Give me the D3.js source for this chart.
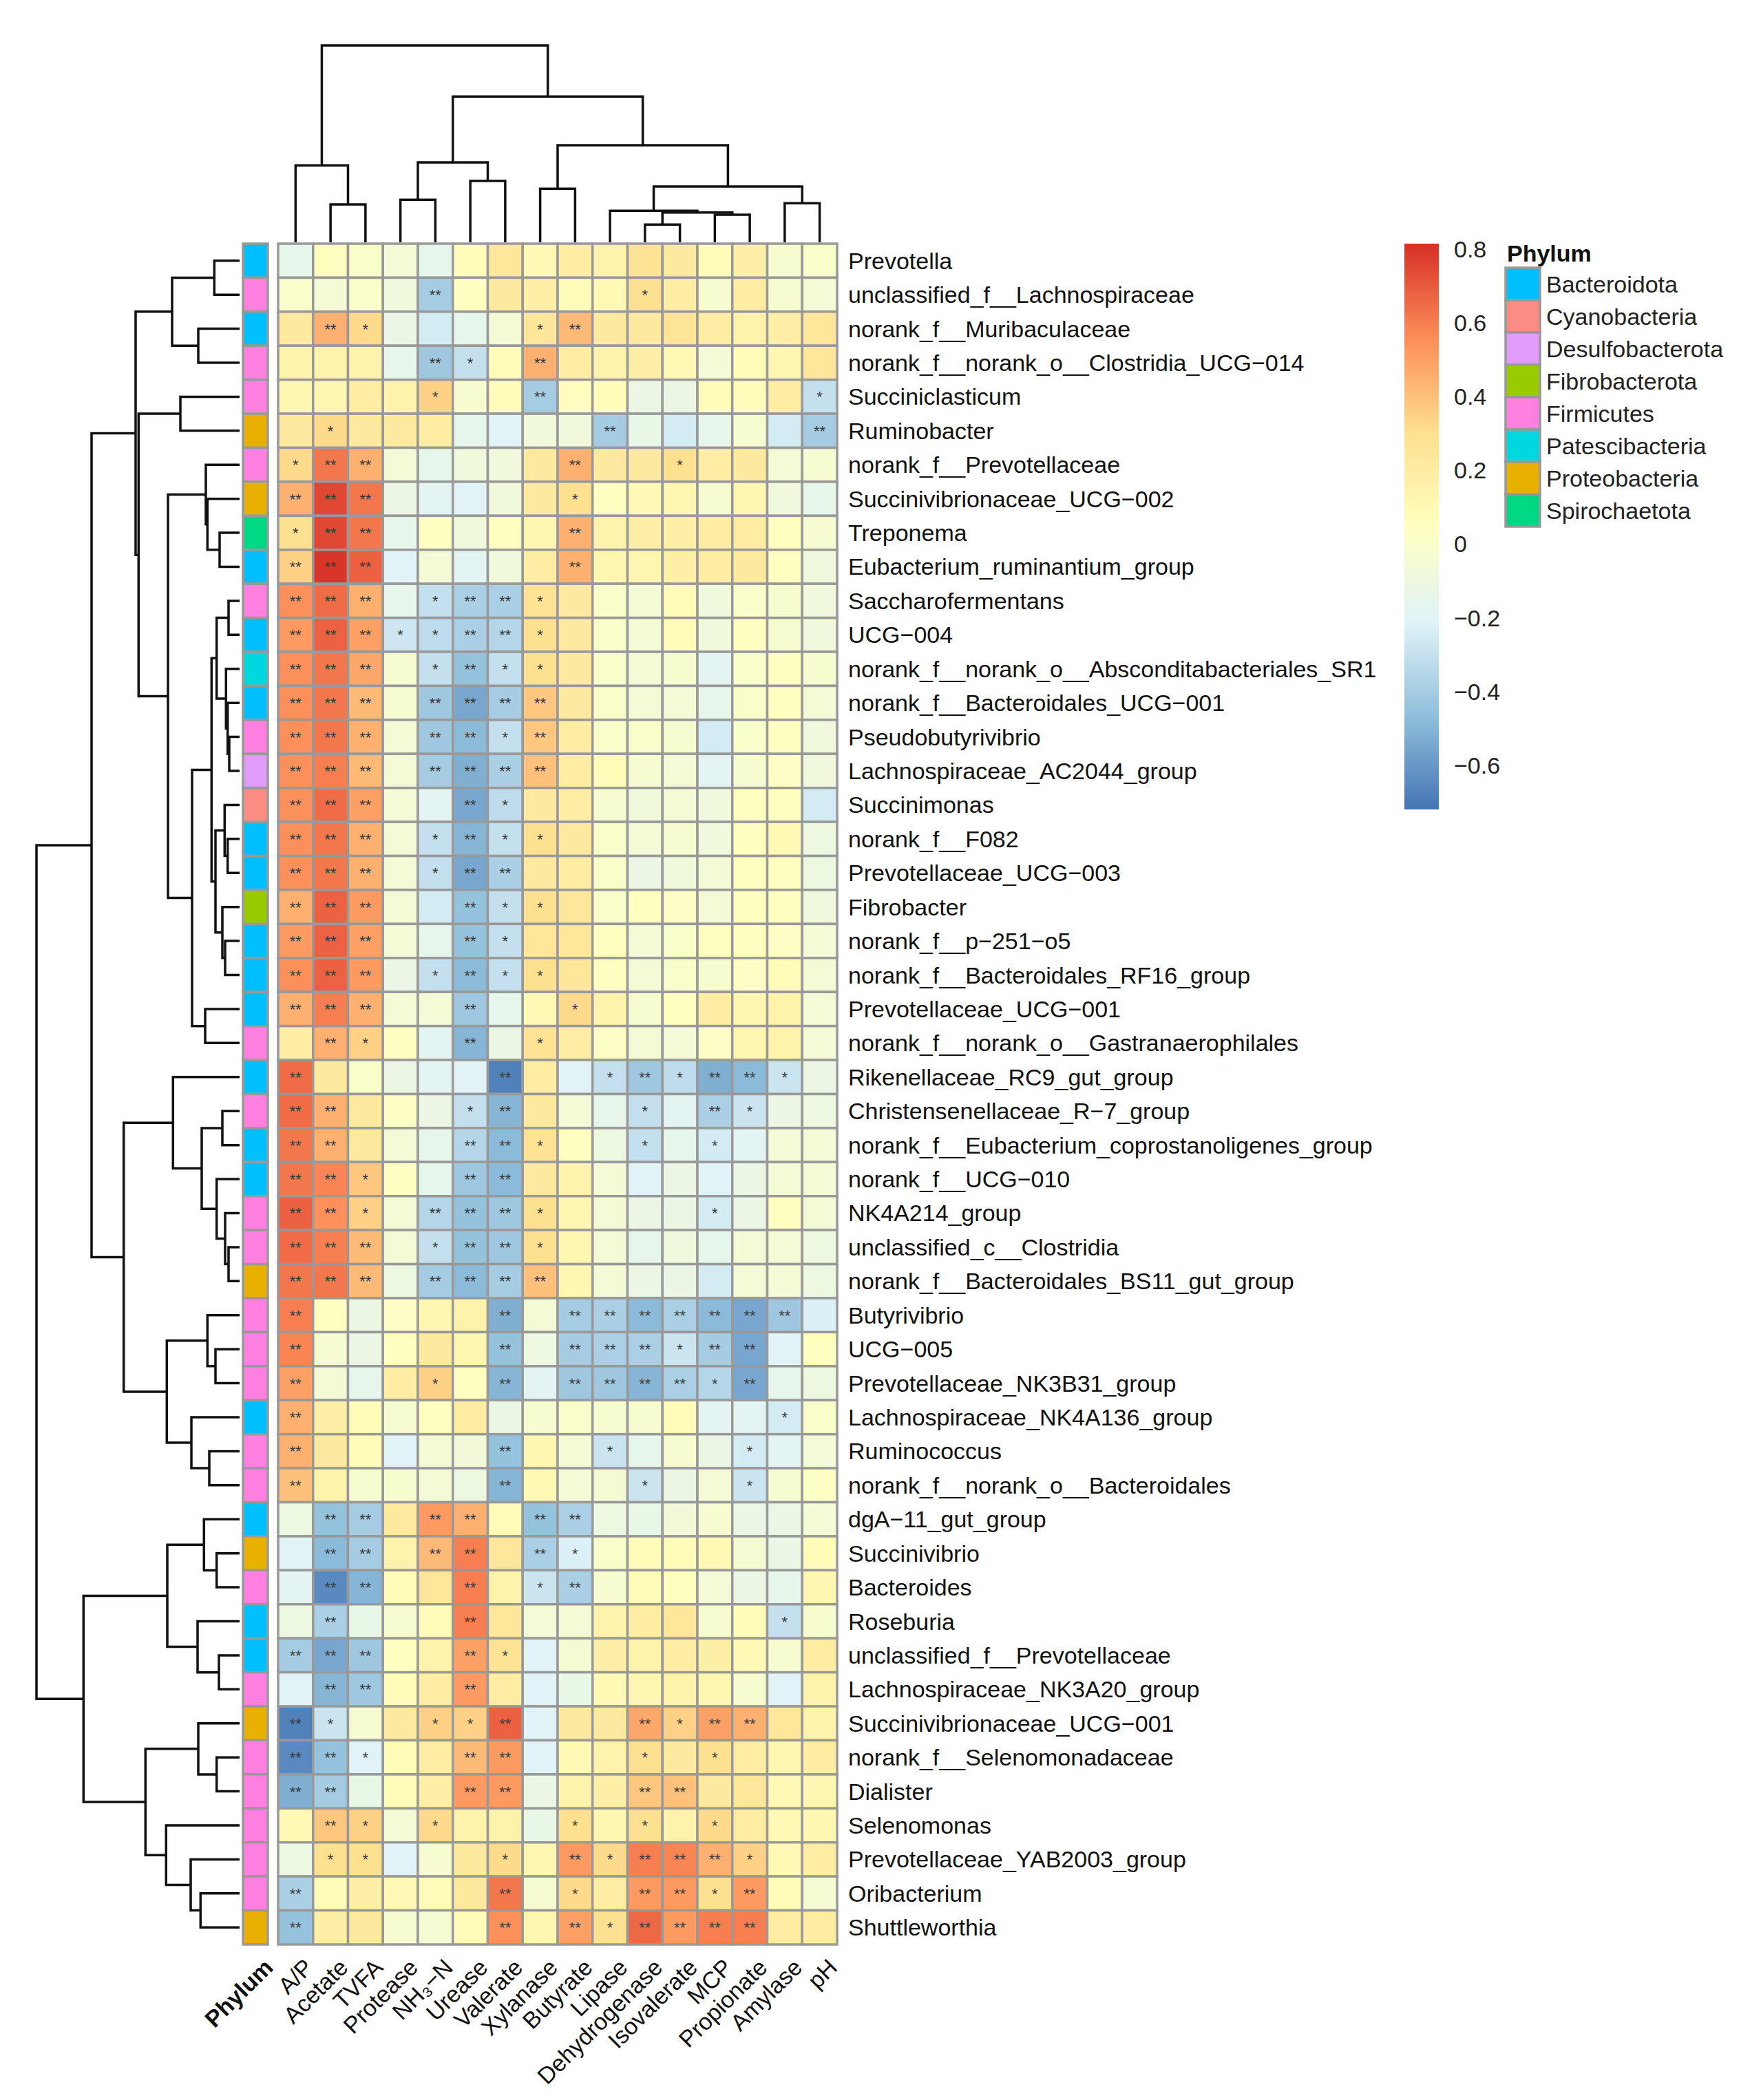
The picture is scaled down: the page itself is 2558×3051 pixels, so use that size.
<!DOCTYPE html>
<html>
<head>
<meta charset="utf-8">
<script src="https://cdn.jsdelivr.net/npm/d3@7"></script>
<style>
  body { margin: 0; background: #fff; }
  text { font-family: "Liberation Sans", Arial, Helvetica, sans-serif; }
</style>
</head>
<body>
<script>
// genera (rows, in dendrogram order)
const rowNames = [
  "Prevotella", "unclassified_f__Lachnospiraceae", "norank_f__Muribaculaceae",
  "norank_f__norank_o__Clostridia_UCG−014", "Succiniclasticum", "Ruminobacter",
  "norank_f__Prevotellaceae", "Succinivibrionaceae_UCG−002", "Treponema",
  "Eubacterium_ruminantium_group", "Saccharofermentans", "UCG−004",
  "norank_f__norank_o__Absconditabacteriales_SR1", "norank_f__Bacteroidales_UCG−001",
  "Pseudobutyrivibrio", "Lachnospiraceae_AC2044_group", "Succinimonas", "norank_f__F082",
  "Prevotellaceae_UCG−003", "Fibrobacter", "norank_f__p−251−o5",
  "norank_f__Bacteroidales_RF16_group", "Prevotellaceae_UCG−001",
  "norank_f__norank_o__Gastranaerophilales", "Rikenellaceae_RC9_gut_group",
  "Christensenellaceae_R−7_group", "norank_f__Eubacterium_coprostanoligenes_group",
  "norank_f__UCG−010", "NK4A214_group", "unclassified_c__Clostridia",
  "norank_f__Bacteroidales_BS11_gut_group", "Butyrivibrio", "UCG−005",
  "Prevotellaceae_NK3B31_group", "Lachnospiraceae_NK4A136_group", "Ruminococcus",
  "norank_f__norank_o__Bacteroidales", "dgA−11_gut_group", "Succinivibrio", "Bacteroides",
  "Roseburia", "unclassified_f__Prevotellaceae", "Lachnospiraceae_NK3A20_group",
  "Succinivibrionaceae_UCG−001", "norank_f__Selenomonadaceae", "Dialister", "Selenomonas",
  "Prevotellaceae_YAB2003_group", "Oribacterium", "Shuttleworthia"
];

// rumen parameters (columns, in dendrogram order)
const colNames = ["A/P", "Acetate", "TVFA", "Protease", "NH₃−N", "Urease", "Valerate",
  "Xylanase", "Butyrate", "Lipase", "Dehydrogenase", "Isovalerate", "MCP",
  "Propionate", "Amylase", "pH"];

// phylum of each genus
const rowPhylum = [
  "Bacteroidota", "Firmicutes", "Bacteroidota", "Firmicutes", "Firmicutes", "Proteobacteria",
  "Firmicutes", "Proteobacteria", "Spirochaetota", "Bacteroidota", "Firmicutes", "Bacteroidota",
  "Patescibacteria", "Bacteroidota", "Firmicutes", "Desulfobacterota", "Cyanobacteria",
  "Bacteroidota", "Bacteroidota", "Fibrobacterota", "Bacteroidota", "Bacteroidota",
  "Bacteroidota", "Firmicutes", "Bacteroidota", "Firmicutes", "Bacteroidota", "Bacteroidota",
  "Firmicutes", "Firmicutes", "Proteobacteria", "Firmicutes", "Firmicutes", "Firmicutes",
  "Bacteroidota", "Firmicutes", "Firmicutes", "Bacteroidota", "Proteobacteria", "Firmicutes",
  "Bacteroidota", "Bacteroidota", "Firmicutes", "Proteobacteria", "Firmicutes", "Firmicutes",
  "Firmicutes", "Firmicutes", "Firmicutes", "Proteobacteria"
];

const phyla = ["Bacteroidota", "Cyanobacteria", "Desulfobacterota", "Fibrobacterota",
  "Firmicutes", "Patescibacteria", "Proteobacteria", "Spirochaetota"];
const phylaColors = ["#00BFFF", "#FA8C84", "#E09CF8", "#99CC00", "#FF80E0", "#00D8E0",
  "#E8B000", "#00D884"];

// correlation coefficients, one row per genus
const corr = [
  [-0.15, 0.05, 0.00, -0.05, -0.15, 0.08, 0.25, 0.10, 0.20, 0.15, 0.28, 0.22, 0.08, 0.18, -0.03, 0.00],
  [0.00, -0.05, 0.00, -0.08, -0.40, 0.05, 0.22, 0.18, 0.08, 0.10, 0.30, 0.20, -0.03, 0.20, -0.03, -0.05],
  [0.22, 0.45, 0.32, -0.12, -0.25, -0.15, -0.05, 0.25, 0.42, 0.22, 0.22, 0.27, 0.20, 0.15, 0.18, 0.25],
  [0.15, 0.15, 0.15, -0.15, -0.42, -0.30, 0.08, 0.45, 0.20, 0.15, 0.18, 0.10, -0.05, 0.08, 0.12, 0.25],
  [0.12, 0.12, 0.20, 0.15, 0.35, -0.03, 0.07, -0.40, 0.06, 0.08, -0.12, -0.12, 0.08, 0.07, 0.20, -0.30],
  [0.22, 0.32, 0.22, 0.22, 0.20, -0.15, -0.20, -0.08, -0.08, -0.40, -0.13, -0.25, -0.15, -0.03, -0.25, -0.40],
  [0.32, 0.62, 0.45, -0.05, -0.15, -0.08, -0.08, 0.22, 0.45, 0.22, 0.22, 0.30, 0.20, 0.22, -0.05, -0.03],
  [0.45, 0.75, 0.62, -0.12, -0.18, -0.20, -0.08, 0.22, 0.30, 0.05, 0.10, 0.12, -0.03, 0.12, -0.08, -0.15],
  [0.30, 0.75, 0.62, -0.15, 0.05, -0.08, 0.05, 0.12, 0.45, 0.15, 0.18, 0.18, 0.20, 0.20, 0.05, -0.03],
  [0.35, 0.80, 0.68, -0.20, -0.05, -0.18, -0.08, 0.20, 0.45, 0.12, 0.12, 0.18, 0.20, 0.22, 0.05, -0.08],
  [0.55, 0.65, 0.45, -0.15, -0.30, -0.38, -0.38, 0.28, 0.22, 0.00, -0.05, 0.08, -0.08, 0.00, -0.02, -0.08],
  [0.52, 0.68, 0.50, -0.27, -0.32, -0.38, -0.35, 0.30, 0.22, 0.00, -0.05, 0.08, -0.08, 0.05, -0.03, -0.08],
  [0.55, 0.62, 0.48, -0.03, -0.30, -0.45, -0.30, 0.30, 0.22, 0.00, -0.05, -0.02, -0.18, 0.00, 0.05, -0.02],
  [0.55, 0.62, 0.42, -0.03, -0.42, -0.55, -0.40, 0.38, 0.22, 0.00, -0.05, -0.05, -0.15, 0.00, 0.05, -0.05],
  [0.55, 0.62, 0.45, -0.05, -0.42, -0.48, -0.30, 0.38, 0.20, 0.00, 0.00, -0.03, -0.25, 0.00, 0.05, -0.08],
  [0.55, 0.60, 0.42, -0.05, -0.40, -0.52, -0.38, 0.40, 0.20, 0.08, -0.03, -0.05, -0.18, -0.03, 0.02, -0.08],
  [0.55, 0.65, 0.50, -0.05, -0.18, -0.55, -0.32, 0.22, 0.20, -0.03, -0.08, -0.05, -0.08, 0.05, 0.05, -0.25],
  [0.55, 0.62, 0.45, -0.05, -0.30, -0.50, -0.30, 0.30, 0.22, 0.00, -0.05, -0.03, -0.08, 0.05, 0.10, -0.10],
  [0.55, 0.62, 0.45, -0.05, -0.30, -0.55, -0.38, 0.22, 0.20, 0.00, -0.12, -0.08, -0.05, 0.05, 0.05, -0.10],
  [0.45, 0.68, 0.52, -0.05, -0.25, -0.45, -0.30, 0.30, 0.25, 0.00, 0.05, 0.02, -0.05, 0.05, 0.05, -0.08],
  [0.52, 0.68, 0.50, -0.05, -0.15, -0.45, -0.30, 0.25, 0.25, 0.05, -0.05, 0.00, 0.05, 0.05, 0.02, -0.05],
  [0.55, 0.68, 0.52, -0.12, -0.30, -0.48, -0.30, 0.30, 0.25, 0.05, -0.05, 0.00, -0.03, 0.02, 0.08, -0.05],
  [0.45, 0.60, 0.45, -0.05, -0.05, -0.42, -0.15, 0.10, 0.32, 0.15, -0.03, 0.05, 0.20, 0.12, 0.15, -0.05],
  [0.20, 0.45, 0.35, 0.05, -0.18, -0.50, -0.12, 0.28, 0.20, 0.02, -0.05, -0.05, 0.02, 0.12, 0.15, -0.05],
  [0.65, 0.22, 0.00, -0.12, -0.18, -0.20, -0.68, 0.20, -0.20, -0.30, -0.42, -0.32, -0.52, -0.48, -0.28, -0.12],
  [0.65, 0.45, 0.22, 0.03, -0.12, -0.30, -0.50, 0.22, -0.05, -0.15, -0.30, -0.18, -0.38, -0.28, -0.12, -0.10],
  [0.62, 0.45, 0.22, -0.05, -0.15, -0.35, -0.48, 0.28, 0.05, -0.10, -0.30, -0.15, -0.25, -0.18, -0.05, -0.05],
  [0.62, 0.58, 0.38, 0.05, -0.15, -0.42, -0.48, 0.22, 0.15, -0.05, -0.20, -0.12, -0.20, -0.12, -0.05, -0.05],
  [0.68, 0.55, 0.35, -0.05, -0.35, -0.45, -0.42, 0.30, 0.12, -0.05, -0.12, -0.12, -0.25, -0.12, 0.05, -0.05],
  [0.65, 0.60, 0.42, -0.05, -0.30, -0.45, -0.42, 0.30, 0.12, -0.05, -0.15, -0.08, -0.15, -0.05, -0.05, -0.10],
  [0.62, 0.62, 0.42, -0.10, -0.40, -0.48, -0.40, 0.40, 0.12, -0.05, -0.12, -0.12, -0.25, -0.05, -0.05, -0.10],
  [0.60, 0.05, -0.12, 0.02, 0.12, 0.15, -0.52, -0.05, -0.40, -0.38, -0.48, -0.38, -0.48, -0.55, -0.42, -0.22],
  [0.58, -0.03, -0.12, 0.05, 0.22, 0.12, -0.45, -0.10, -0.40, -0.38, -0.38, -0.28, -0.40, -0.55, -0.20, 0.05],
  [0.50, -0.05, -0.15, 0.20, 0.35, 0.05, -0.50, -0.18, -0.42, -0.42, -0.50, -0.38, -0.35, -0.55, -0.15, -0.10],
  [0.45, 0.18, 0.08, -0.03, 0.05, 0.20, -0.12, -0.03, 0.00, -0.03, -0.03, 0.08, -0.18, -0.18, -0.25, 0.00],
  [0.45, 0.22, 0.08, -0.20, -0.05, -0.07, -0.45, 0.12, -0.05, -0.28, -0.15, -0.03, -0.12, -0.25, -0.18, -0.06],
  [0.40, 0.15, -0.03, -0.02, -0.05, -0.10, -0.50, 0.10, -0.05, -0.04, -0.28, -0.12, -0.05, -0.28, -0.03, 0.02],
  [-0.10, -0.45, -0.40, 0.22, 0.52, 0.45, 0.08, -0.45, -0.38, -0.10, -0.13, -0.07, -0.03, -0.12, -0.12, -0.05],
  [-0.20, -0.48, -0.40, 0.15, 0.42, 0.60, 0.25, -0.38, -0.22, 0.00, 0.08, 0.08, 0.10, -0.04, -0.12, 0.08],
  [-0.18, -0.65, -0.50, 0.08, 0.25, 0.60, 0.15, -0.28, -0.38, -0.03, 0.08, 0.05, -0.05, -0.12, -0.15, 0.12],
  [-0.10, -0.38, -0.13, -0.03, 0.08, 0.60, 0.25, -0.06, -0.05, 0.15, 0.20, 0.25, -0.03, 0.08, -0.30, -0.02],
  [-0.40, -0.55, -0.42, 0.05, 0.15, 0.50, 0.28, -0.20, -0.04, 0.18, 0.15, 0.20, 0.18, 0.10, -0.03, 0.20],
  [-0.20, -0.50, -0.42, 0.08, 0.20, 0.52, 0.20, -0.20, -0.13, 0.10, 0.12, 0.15, 0.12, -0.02, -0.20, 0.15],
  [-0.68, -0.28, -0.03, 0.22, 0.35, 0.35, 0.68, -0.20, 0.22, 0.22, 0.48, 0.35, 0.50, 0.45, 0.25, 0.15],
  [-0.65, -0.45, -0.20, 0.08, 0.20, 0.42, 0.52, -0.20, 0.10, 0.15, 0.30, 0.22, 0.30, 0.20, 0.12, 0.20],
  [-0.52, -0.40, -0.13, 0.08, 0.18, 0.52, 0.52, -0.12, 0.15, 0.18, 0.38, 0.40, 0.22, 0.25, 0.10, 0.12],
  [0.10, 0.38, 0.35, -0.05, 0.32, 0.15, 0.15, -0.13, 0.30, 0.12, 0.30, 0.15, 0.32, 0.20, 0.10, 0.12],
  [-0.10, 0.30, 0.30, -0.20, -0.03, 0.22, 0.32, 0.12, 0.52, 0.32, 0.60, 0.58, 0.45, 0.35, 0.10, 0.20],
  [-0.38, 0.08, 0.18, 0.10, 0.08, 0.22, 0.62, -0.03, 0.32, 0.20, 0.52, 0.52, 0.30, 0.52, 0.08, -0.04],
  [-0.45, 0.18, 0.22, -0.03, -0.04, 0.08, 0.55, 0.12, 0.50, 0.30, 0.66, 0.52, 0.60, 0.60, 0.20, 0.20]
];

// significance per cell: 0 none, 1 = *, 2 = **
const signif = [
  "0000000000000000", "0000200000100000", "0210000120000000", "0000210200000000",
  "0000100200000001", "0100000002000002", "1220000020010000", "2220000010000000",
  "1220000020000000", "2220000020000000", "2220122100000000", "2221122100000000",
  "2220121100000000", "2220222200000000", "2220221200000000", "2220222200000000",
  "2220021000000000", "2220121100000000", "2220122000000000", "2220021100000000",
  "2220021000000000", "2220121100000000", "2220020010000000", "0210020100000000",
  "2000002001212210", "2200012000102100", "2200022100101000", "2210022000000000",
  "2210222100001000", "2220122100000000", "2220222200000000", "2000002022222220",
  "2000002022212200", "2000102022221200", "2000000000000010", "2000002001000100",
  "2000002000100100", "0220220220000000", "0220220210000000", "0220020120000000",
  "0200020000000010", "2220021000000000", "0220020000000000", "2100112000212200",
  "2210022000101000", "2200022000220000", "0210100010101000", "0110001021222100",
  "2000002010221200", "2000002021222200"
];

// hclust-style merges: negative = leaf (1-based), positive = earlier merge; third = height
const rowMerges = [
  [-1, -2, 36.7], [-3, -4, 60], [1, 2, 98], [-5, -6, 86], [-9, -10, 29], [-8, 5, 46.7],
  [-7, 6, 49], [-11, -12, 16], [-15, -16, 15], [-14, 9, 17.3], [-13, 10, 19.7], [8, 11, 33.3],
  [-18, -19, 17.3], [-17, 13, 21.7], [-21, -22, 21], [-20, 15, 25], [14, 16, 35], [12, 17, 40.7],
  [-23, -24, 50], [18, 19, 69], [7, 20, 104], [4, 21, 146.7], [3, 22, 151],
  [-26, -27, 25], [-30, -31, 16], [-29, 25, 21], [-28, 26, 33.3], [24, 27, 55], [-25, 28, 96.7],
  [-33, -34, 35], [-32, 30, 46.7], [-36, -37, 44], [-35, 32, 70], [31, 33, 105.7], [29, 34, 168.3],
  [23, 35, 215], [-39, -40, 33.3], [-38, 37, 51.7], [-42, -43, 30], [-41, 39, 61], [38, 40, 105],
  [-45, -46, 33.3], [-44, 42, 60], [-49, -50, 56.7], [-48, 44, 71], [-47, 45, 106.7],
  [43, 46, 136.7], [41, 47, 226.7], [36, 48, 295]
];
const colMerges = [
  [-2, -3, 55], [-1, 1, 111.7], [-4, -5, 61.7], [-6, -7, 89.3], [3, 4, 116], [-8, -9, 77.7],
  [-11, -12, 25.7], [-13, -14, 40], [7, 8, 43.3], [-10, 9, 45.7], [-15, -16, 56.7],
  [10, 11, 81], [6, 12, 141], [5, 13, 211.7], [2, 14, 286]
];

const legendTicks = [0.8, 0.6, 0.4, 0.2, 0, -0.2, -0.4, -0.6];
const vMin = -0.72, vMax = 0.815;
const palette = ["#4575B4", "#91BFDB", "#E0F3F8", "#FFFFBF", "#FEE090", "#FC8D59", "#D73027"];

// ---- layout ----
const width = 2558, height = 3051;
const border = "#999999";
const fontSize = 34;

const svg = d3.select("body").append("svg")
  .attr("width", width).attr("height", height)
  .style("display", "block");
svg.append("rect").attr("width", width).attr("height", height).attr("fill", "#fff");

const x = d3.scaleBand().domain(d3.range(colNames.length)).range([404, 1216]);
const y = d3.scaleBand().domain(d3.range(rowNames.length)).range([354, 2825]);
const color = d3.scaleLinear()
  .domain(palette.map((d, i) => vMin + i * (vMax - vMin) / (palette.length - 1)))
  .range(palette);
const phylumColor = d3.scaleOrdinal().domain(phyla).range(phylaColors);

// heatmap cells
const cells = svg.append("g");
corr.forEach((row, r) => {
  cells.selectAll(null)
    .data(row)
    .enter()
    .append("rect")
    .attr("x", (d, c) => x(c))
    .attr("y", y(r))
    .attr("width", x.bandwidth())
    .attr("height", y.bandwidth())
    .attr("fill", d => color(d))
    .attr("stroke", border)
    .attr("stroke-width", 3.5);
});

// significance stars
const stars = svg.append("g")
  .attr("font-size", 22).attr("fill", "#383838").attr("text-anchor", "middle");
signif.forEach((s, r) => {
  s.split("").forEach((k, c) => {
    if (k === "0") return;
    stars.append("text")
      .attr("x", x(c) + x.bandwidth() / 2)
      .attr("y", y(r) + y.bandwidth() / 2 + 8)
      .text(k === "2" ? "**" : "*");
  });
});

// phylum annotation column
svg.append("g").selectAll("rect")
  .data(rowPhylum)
  .enter()
  .append("rect")
  .attr("x", 353)
  .attr("y", (d, i) => y(i))
  .attr("width", 36)
  .attr("height", y.bandwidth())
  .attr("fill", d => phylumColor(d))
  .attr("stroke", border)
  .attr("stroke-width", 3.5);

// row labels
svg.append("g").selectAll("text")
  .data(rowNames)
  .enter()
  .append("text")
  .attr("x", 1232)
  .attr("y", (d, i) => y(i) + y.bandwidth() / 2)
  .attr("dominant-baseline", "central")
  .attr("font-size", fontSize)
  .attr("fill", "#111")
  .text(d => d);

// column labels, rotated 45 degrees
const colLab = svg.append("g");
colNames.forEach((d, i) => {
  colLab.append("text")
    .attr("transform", `translate(${x(i) + x.bandwidth() / 2 + 10},2843) rotate(-45)`)
    .attr("text-anchor", "end")
    .attr("dominant-baseline", "hanging")
    .attr("font-size", fontSize)
    .attr("fill", "#111")
    .text(d);
});
colLab.append("text")
  .attr("transform", "translate(381,2843) rotate(-45)")
  .attr("text-anchor", "end")
  .attr("dominant-baseline", "hanging")
  .attr("font-size", fontSize)
  .attr("font-weight", "bold")
  .attr("fill", "#111")
  .text("Phylum");

// ---- dendrograms ----
function buildTree(merges, leafPos) {
  const nodes = [];
  const get = k => k < 0 ? { p: leafPos(-k - 1), h: 0 } : nodes[k - 1];
  merges.forEach(([a, b, h]) => {
    const A = get(a), B = get(b);
    nodes.push({ p: (A.p + B.p) / 2, h: h, a: A, b: B });
  });
  return nodes;
}

// left (rows)
const hRow = d3.scaleLinear().domain([0, 295]).range([348, 53]);
const rowTree = buildTree(rowMerges, i => y(i) + y.bandwidth() / 2);
svg.append("g").selectAll("path")
  .data(rowTree)
  .enter()
  .append("path")
  .attr("d", n => {
    const p = d3.path();
    p.moveTo(hRow(n.a.h), n.a.p);
    p.lineTo(hRow(n.h), n.a.p);
    p.lineTo(hRow(n.h), n.b.p);
    p.lineTo(hRow(n.b.h), n.b.p);
    return p.toString();
  })
  .attr("fill", "none")
  .attr("stroke", "#111")
  .attr("stroke-width", 3.5);

// top (columns)
const hCol = d3.scaleLinear().domain([0, 286]).range([352, 66]);
const colTree = buildTree(colMerges, i => x(i) + x.bandwidth() / 2);
svg.append("g").selectAll("path")
  .data(colTree)
  .enter()
  .append("path")
  .attr("d", n => {
    const p = d3.path();
    p.moveTo(n.a.p, hCol(n.a.h));
    p.lineTo(n.a.p, hCol(n.h));
    p.lineTo(n.b.p, hCol(n.h));
    p.lineTo(n.b.p, hCol(n.b.h));
    return p.toString();
  })
  .attr("fill", "none")
  .attr("stroke", "#111")
  .attr("stroke-width", 3.5);

// ---- colour legend ----
const grad = svg.append("defs").append("linearGradient")
  .attr("id", "corrGrad")
  .attr("x1", 0).attr("y1", 1).attr("x2", 0).attr("y2", 0);
grad.selectAll("stop")
  .data(palette)
  .enter()
  .append("stop")
  .attr("offset", (d, i) => i / (palette.length - 1))
  .attr("stop-color", d => d);

const legY = d3.scaleLinear().domain([vMin, vMax]).range([1176, 354]);
svg.append("rect")
  .attr("x", 2040).attr("y", legY(vMax))
  .attr("width", 50).attr("height", legY(vMin) - legY(vMax))
  .attr("fill", "url(#corrGrad)");

const fmt = d3.format(".1f");
svg.append("g").selectAll("text")
  .data(legendTicks)
  .enter()
  .append("text")
  .attr("x", 2112)
  .attr("y", d => legY(d))
  .attr("dominant-baseline", "central")
  .attr("font-size", fontSize)
  .attr("fill", "#222")
  .text(d => d === 0 ? "0" : fmt(d));

// ---- phylum legend ----
svg.append("text")
  .attr("x", 2189).attr("y", 368)
  .attr("dominant-baseline", "central")
  .attr("font-size", fontSize)
  .attr("font-weight", "bold")
  .attr("fill", "#111")
  .text("Phylum");

const legItem = svg.append("g").selectAll("g")
  .data(phyla)
  .enter()
  .append("g")
  .attr("transform", (d, i) => `translate(2187,${389 + i * 47})`);
legItem.append("rect")
  .attr("width", 50).attr("height", 47)
  .attr("fill", d => phylumColor(d))
  .attr("stroke", border)
  .attr("stroke-width", 3.5);
legItem.append("text")
  .attr("x", 59).attr("y", 24)
  .attr("dominant-baseline", "central")
  .attr("font-size", fontSize)
  .attr("fill", "#222")
  .text(d => d);
</script>
</body>
</html>
